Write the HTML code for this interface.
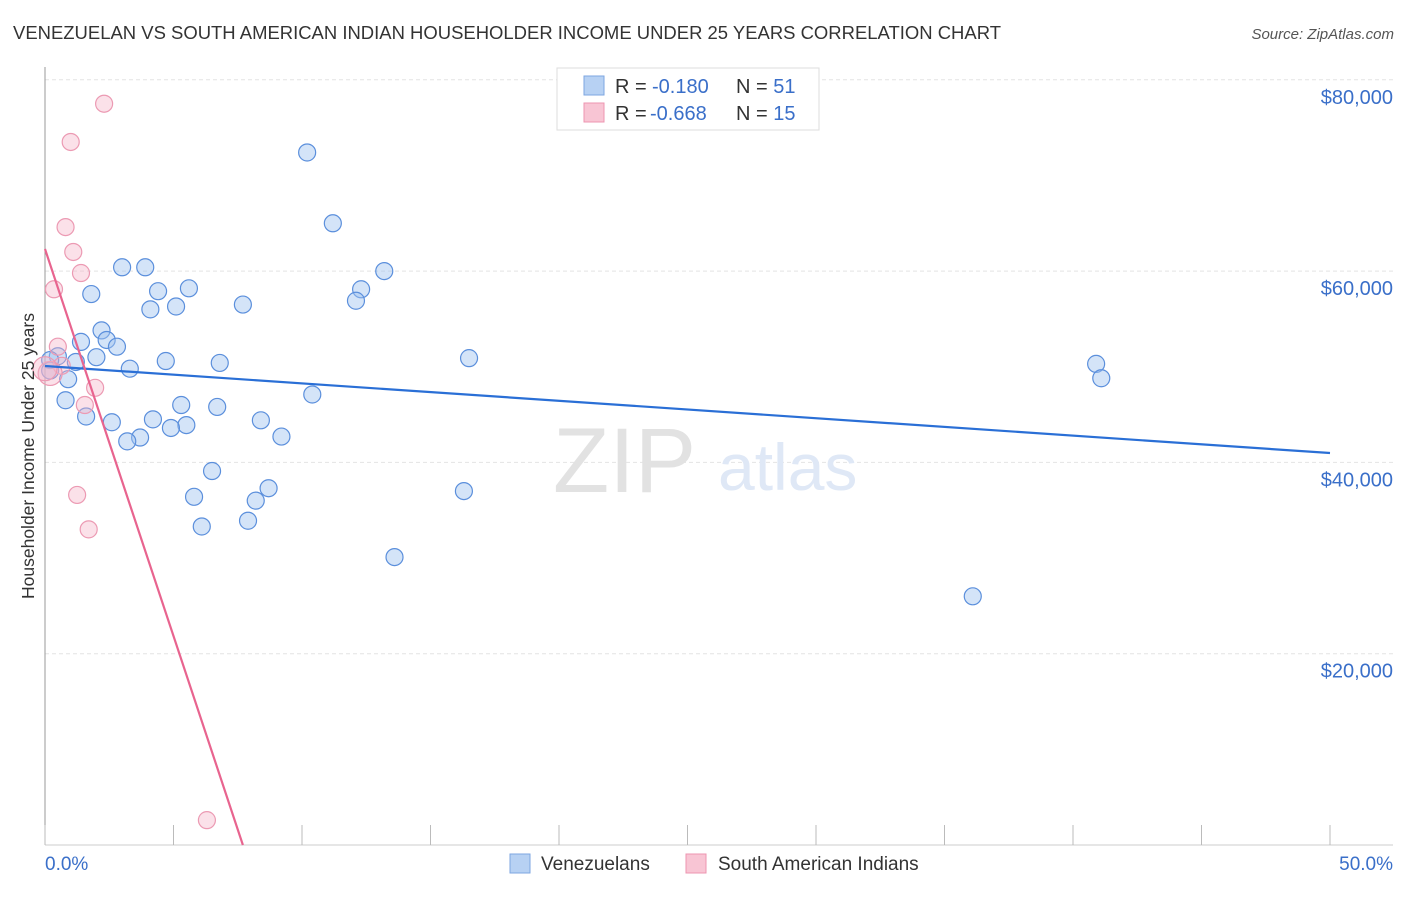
<!DOCTYPE html>
<html><head><meta charset="utf-8"><style>
body{margin:0;background:#fff;font-family:"Liberation Sans",sans-serif;}
svg text{font-family:"Liberation Sans",sans-serif;}
</style></head><body>
<svg id="chart" width="1406" height="892" xmlns="http://www.w3.org/2000/svg">
<text x="13" y="39" font-size="18" fill="#333" textLength="988" lengthAdjust="spacingAndGlyphs">VENEZUELAN VS SOUTH AMERICAN INDIAN HOUSEHOLDER INCOME UNDER 25 YEARS CORRELATION CHART</text>
<text x="1394" y="39" font-size="15" fill="#555" text-anchor="end" font-style="italic">Source: ZipAtlas.com</text>
<g id="grid"></g>
<text x="553" y="492" font-size="92" fill="#e2e2e2" font-family="Liberation Serif">ZIP</text>
<text x="718" y="490" font-size="66" fill="#dfe8f6">atlas</text>
<line x1="45" y1="67" x2="45" y2="845" stroke="#999" stroke-width="1"/>
<line x1="45" y1="845" x2="1393" y2="845" stroke="#ccc" stroke-width="1"/>
<g id="xticks"></g>
<g id="ylabels"></g>
<g id="points"></g>
<g id="lines"></g>
<text transform="translate(34,456) rotate(-90)" font-size="17.5" fill="#333" text-anchor="middle">Householder Income Under 25 years</text>
<text x="45" y="870" font-size="19" fill="#3a6fc9">0.0%</text>
<text x="1393" y="870" font-size="19" fill="#3a6fc9" text-anchor="end">50.0%</text>
<g>
<rect x="557" y="68" width="262" height="62" fill="#fff" stroke="#ddd"/>
<rect x="584" y="76" width="20" height="19" fill="#b7d1f3" stroke="#7ea6e0"/>
<rect x="584" y="103" width="20" height="19" fill="#f8c5d4" stroke="#ee95b0"/>
<text x="615" y="93" font-size="20" fill="#333">R = <tspan x="652" fill="#3a6fc9">-0.180</tspan><tspan x="736">N = </tspan><tspan fill="#3a6fc9">51</tspan></text>
<text x="615" y="120" font-size="20" fill="#333">R = <tspan x="650" fill="#3a6fc9">-0.668</tspan><tspan x="736">N = </tspan><tspan fill="#3a6fc9">15</tspan></text>
</g>
<g>
<rect x="510" y="854" width="20" height="19" fill="#b7d1f3" stroke="#7ea6e0"/>
<text x="541" y="870" font-size="19" fill="#333">Venezuelans</text>
<rect x="686" y="854" width="20" height="19" fill="#f8c5d4" stroke="#ee95b0"/>
<text x="718" y="870" font-size="19" fill="#333">South American Indians</text>
</g>
</svg>
<script>
const yTicks=[20000,40000,60000,80000];
const yTickLabels=["$20,000","$40,000","$60,000","$80,000"];
const xTicks=[0,5,10,15,20,25,30,35,40,45,50];
const venX=[10.2,11.2,3.0,3.9,13.2,4.4,5.6,1.8,12.3,12.1,7.7,4.1,5.1,2.2,2.4,1.4,2.8,16.5,40.9,41.1,2.0,4.7,6.8,3.3,1.2,0.5,0.2,0.9,0.8,10.4,1.6,2.6,4.2,5.3,6.7,5.5,4.9,8.4,9.2,3.7,3.2,6.5,16.3,5.8,8.7,8.2,6.1,7.9,13.6,36.1,0.2];
const venY=[72400,65000,60400,60400,60000,57900,58200,57600,58100,56900,56500,56000,56300,53800,52800,52600,52100,50900,50300,48800,51000,50600,50400,49800,50500,51100,50700,48700,46500,47100,44800,44200,44500,46000,45800,43900,43600,44400,42700,42600,42200,39100,37000,36400,37300,36000,33300,33900,30100,26000,49600];
const saiX=[2.3,1.0,0.8,1.1,1.4,0.35,0.5,0.65,1.95,1.55,1.25,1.7,6.3,0.2,0.0];
const saiY=[77500,73500,64600,62000,59800,58100,52100,50100,47800,46000,36600,33000,2600,49300,49800];
const venLine=[50080,40980];
const saiLine=[62310,0];
const saiLineX=[0,7.7];
const NS="http://www.w3.org/2000/svg";
const X=v=>45+v*25.7, Y=v=>845-v*0.009565;
function mk(t,a,p){const e=document.createElementNS(NS,t);for(const k in a)e.setAttribute(k,a[k]);document.getElementById(p).appendChild(e);return e;}
yTicks.forEach((t,i)=>{
 const l=mk('line',{x1:45,x2:1393,y1:Y(t),y2:Y(t),stroke:'#e4e4e4','stroke-dasharray':'4,3'},'grid');
 
 
 const tx=mk('text',{x:1393,y:Y(t)+24,'font-size':20,fill:'#3a6fc9','text-anchor':'end'},'ylabels');
 tx.textContent=yTickLabels[i];
 
 
});
xTicks.forEach(t=>{
 const l=mk('line',{x1:X(t),x2:X(t),y1:825,y2:845,stroke:'#bbb'},'xticks');
 
 
});
venX.forEach((v,i)=>{
 const c=mk('circle',{cx:X(v),cy:Y(venY[i]),r:8.5,fill:'rgba(160,195,240,0.45)',stroke:'#5b8fdc','stroke-width':1.2},'points');
 
 
});
saiX.forEach((v,i)=>{
 const c=mk('circle',{cx:X(v),cy:Y(saiY[i]),r:i>=13?12:8.5,fill:'rgba(245,180,200,0.4)',stroke:'#ec9ab3','stroke-width':1.2},'points');
 
 
});
const vl=mk('line',{x1:X(0),y1:Y(venLine[0]),x2:X(50),y2:Y(venLine[1]),stroke:'#2a6fd6','stroke-width':2.2},'lines');


const sl=mk('line',{x1:X(saiLineX[0]),y1:Y(saiLine[0]),x2:X(saiLineX[1]),y2:Y(saiLine[1]),stroke:'#e8648f','stroke-width':2.2},'lines');


</script>
</body></html>
